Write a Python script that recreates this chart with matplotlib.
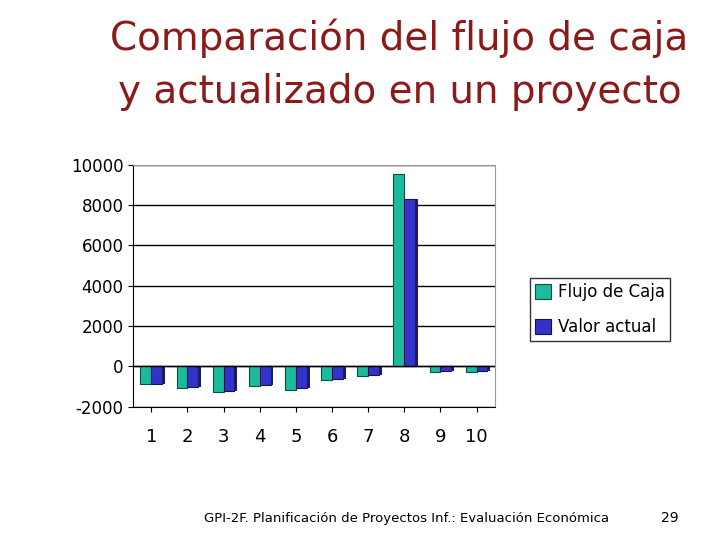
import matplotlib
matplotlib.use("Agg")
import matplotlib.pyplot as plt
import numpy as np
plt.rcParams["axes.unicode_minus"] = False

categories = ["1","2","3","4","5","6","7","8","9","10"]
flujo = [-880,-1080,-1280,-980,-1180,-680,-480,9530,-280,-280]
valor = [-880,-1030,-1220,-930,-1100,-630,-420,8300,-230,-230]

fig = plt.figure(figsize=(7.2,5.4), dpi=100)
fig.text(0.555,0.93,"Comparación del flujo de caja",ha="center",va="center",fontsize=28,color="#8B1A1A")
fig.text(0.555,0.83,"y actualizado en un proyecto",ha="center",va="center",fontsize=28,color="#8B1A1A")
fig.text(0.565,0.033,"GPI-2F. Planificación de Proyectos Inf.: Evaluación Económica",ha="center",fontsize=9.5)
fig.text(0.93,0.033,"29",ha="center",fontsize=10)

ax = fig.add_axes([0.185,0.247,0.502,0.448])
x = np.arange(len(categories))
w = 0.3
ax.set_xlim(-0.5,9.5)
ax.set_ylim(-2000,10000)
ax.set_yticks(range(-2000,10001,2000))
ax.set_xticks(x)
ax.set_xticklabels(categories,fontsize=13)
ax.tick_params(axis="x",pad=12)
ax.tick_params(axis="y",labelsize=12)
ax.yaxis.grid(True,color="black",linewidth=1)
ax.set_axisbelow(True)
for s in ["top","right"]:
    ax.spines[s].set_color("#999999")
ax.bar(x-w/2,flujo,w,color="#1ABC9C",edgecolor="#0B4F40",linewidth=0.8,label="Flujo de Caja")
ax.bar(x+w/2,valor,w,color="#3333CC",edgecolor="#12124F",linewidth=0.8,label="Valor actual")
ax.bar(x+w+0.04,valor,0.08,color="#1A1A66")
ax.axhline(0,color="black",linewidth=1)
ax.legend(loc="upper left",bbox_to_anchor=(0.724,0.5),bbox_transform=fig.transFigure,fontsize=12,frameon=True,edgecolor="black",fancybox=False,handlelength=1,handleheight=1,labelspacing=1.0,borderpad=0.3,handletextpad=0.4)
fig.savefig("out.png",dpi=100)
